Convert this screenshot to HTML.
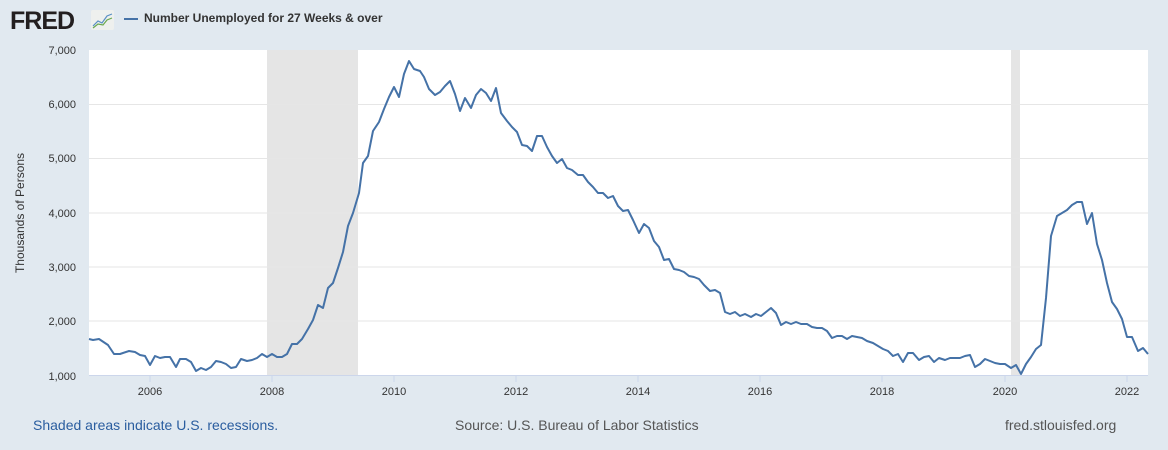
<!DOCTYPE html>
<html><head><meta charset="utf-8"><style>
body{margin:0;width:1168px;height:450px;background:#e1e9f0;font-family:"Liberation Sans",Arial,sans-serif;overflow:hidden;position:relative}
.t{position:absolute;white-space:nowrap}
</style></head><body>
<div class="t" style="left:10px;top:7px;font-size:25px;font-weight:900;color:#231f20;letter-spacing:-1px">FRED</div>
<svg class="t" style="left:91px;top:10px" width="23" height="20"><rect x="0" y="0" width="23" height="20" rx="2" fill="#eef0ee"/><polyline points="2,16 7,11 11,13 16,6 21,4" fill="none" stroke="#5a8fc4" stroke-width="1.2"/><polyline points="2,18 7,14 12,15 16,10 21,8" fill="none" stroke="#6aa84f" stroke-width="1.2"/></svg>
<div class="t" style="left:124px;top:18px;width:14px;height:2px;background:#4572a7"></div>
<div class="t" style="left:144px;top:11px;font-size:12px;font-weight:bold;color:#333">Number Unemployed for 27 Weeks &amp; over</div>
<svg class="t" style="left:0;top:0" width="1168" height="450">
<rect x="89" y="50" width="1059" height="325" fill="#fff"/>
<rect x="267" y="50" width="91" height="325" fill="#e5e5e5"/>
<rect x="1011" y="50" width="9" height="325" fill="#e5e5e5"/>
<g stroke="#e6e6e6" stroke-width="1">
<line x1="89" x2="1148" y1="104.5" y2="104.5"/><line x1="89" x2="1148" y1="158.5" y2="158.5"/><line x1="89" x2="1148" y1="213" y2="213"/><line x1="89" x2="1148" y1="267" y2="267"/><line x1="89" x2="1148" y1="321" y2="321"/>
</g>
<line x1="89" x2="1148" y1="375.5" y2="375.5" stroke="#ccd6eb"/>
<g stroke="#ccd6eb"><line x1="150" x2="150" y1="376" y2="382"/><line x1="272" x2="272" y1="376" y2="382"/><line x1="394" x2="394" y1="376" y2="382"/><line x1="516" x2="516" y1="376" y2="382"/><line x1="638" x2="638" y1="376" y2="382"/><line x1="760" x2="760" y1="376" y2="382"/><line x1="882" x2="882" y1="376" y2="382"/><line x1="1005" x2="1005" y1="376" y2="382"/><line x1="1127" x2="1127" y1="376" y2="382"/></g>
<polyline fill="none" stroke="#4572a7" stroke-width="2" stroke-linejoin="round" points="89,339 93,340 99,339 108,345 114,354 120,354 129,351 135,352 140,355 145,356 150,365 155,356 160,358 165,357 170,357 176,367 180,359 186,359 191,362 196,371 201,368 206,370 211,367 216,361 221,362 226,364 231,368 236,367 241,359 247,361 252,360 257,358 262,354 267,357 272,354 277,357 282,357 287,354 292,344 297,344 302,339 308,329 313,320 318,305 323,308 328,288 333,283 338,268 343,252 348,226 353,213 359,193 363,163 368,156 373,131 379,122 384,109 389,97 394,87 399,97 404,74 409,61 414,69 420,71 424,77 429,89 435,95 440,92 445,86 450,81 455,94 460,111 465,98 471,108 476,95 481,89 486,93 491,101 496,88 501,113 507,121 512,127 517,132 522,145 527,146 532,151 537,136 542,136 547,147 552,156 557,163 562,159 567,168 572,170 578,175 583,175 588,182 593,187 598,193 603,193 608,198 613,196 618,206 623,211 628,210 633,220 639,233 644,224 649,228 654,241 659,247 664,260 669,259 674,269 679,270 684,272 689,276 694,277 699,279 704,285 710,291 715,290 720,293 725,312 730,314 735,312 740,316 745,314 751,317 756,314 761,316 766,312 771,308 776,313 781,325 786,322 791,324 796,322 801,324 807,324 812,327 817,328 822,328 827,331 832,338 837,336 842,336 847,339 852,336 857,337 862,338 867,341 873,343 878,346 883,349 888,351 893,356 898,354 903,362 908,353 913,353 919,360 924,357 929,356 934,362 939,358 945,360 950,358 955,358 960,358 965,356 970,355 975,367 980,364 985,359 990,361 995,363 1000,364 1005,364 1011,368 1016,365 1021,374 1026,364 1031,357 1036,349 1041,345 1046,298 1051,236 1057,216 1062,213 1067,210 1072,205 1077,202 1082,202 1087,224 1092,213 1097,244 1102,260 1107,283 1112,302 1117,309 1122,319 1127,337 1132,337 1138,351 1143,348 1148,354"/>
<g font-size="11" fill="#333" text-anchor="end" font-family="Liberation Sans,Arial,sans-serif">
<text x="76" y="54">7,000</text><text x="76" y="108">6,000</text><text x="76" y="162">5,000</text><text x="76" y="217">4,000</text><text x="76" y="271">3,000</text><text x="76" y="325">2,000</text><text x="76" y="380">1,000</text>
</g>
<g font-size="11" fill="#333" text-anchor="middle" font-family="Liberation Sans,Arial,sans-serif">
<text x="150" y="395">2006</text><text x="272" y="395">2008</text><text x="394" y="395">2010</text><text x="516" y="395">2012</text><text x="638" y="395">2014</text><text x="760" y="395">2016</text><text x="882" y="395">2018</text><text x="1005" y="395">2020</text><text x="1127" y="395">2022</text>
</g>
<text transform="translate(24,213) rotate(-90)" font-size="12" fill="#333" text-anchor="middle" font-family="Liberation Sans,Arial,sans-serif">Thousands of Persons</text>
</svg>
<div class="t" style="left:33px;top:417px;font-size:14px;color:#2a5d9f">Shaded areas indicate U.S. recessions.</div>
<div class="t" style="left:455px;top:417px;font-size:14px;color:#555">Source: U.S. Bureau of Labor Statistics</div>
<div class="t" style="left:1005px;top:417px;font-size:14px;color:#555">fred.stlouisfed.org</div>
</body></html>
